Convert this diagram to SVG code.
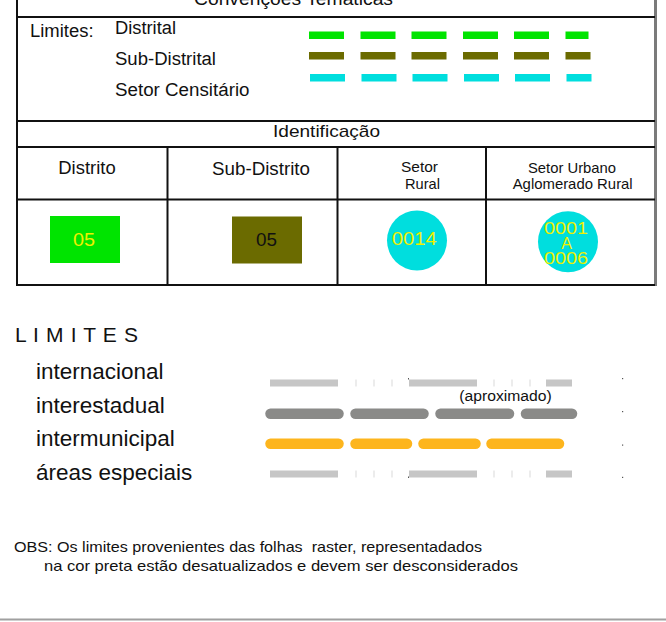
<svg xmlns="http://www.w3.org/2000/svg" width="666" height="622" viewBox="0 0 666 622">
<style>
text{font-family:"Liberation Sans",Arial,sans-serif;fill:#111}
.t18{font-size:18px}
.t15{font-size:15px}
.big{font-size:22.5px}
.yl{fill:#f0f000}
.grid{stroke:#111;stroke-width:2;fill:none}
.lg{fill:#c6c6c6}
.tk{fill:#dadada}
.dt{fill:#555}
.gr{stroke:#8a8a88;stroke-width:10.5;stroke-linecap:round}
.or{stroke:#fdb51d;stroke-width:10.5;stroke-linecap:round}
</style>
<rect width="666" height="622" fill="#fff"/>

<g id="frame">
<line class="grid" x1="17" y1="0" x2="17" y2="286"/>
<line x1="655.5" y1="0" x2="655.5" y2="286" stroke="#7a7a7a" stroke-width="3"/>
<line class="grid" x1="17" y1="17" x2="655" y2="17"/>
<line class="grid" x1="17" y1="121" x2="655" y2="121"/>
<line class="grid" x1="17" y1="147" x2="655" y2="147"/>
<line class="grid" x1="17" y1="199.5" x2="655" y2="199.5"/>
<line class="grid" x1="16" y1="285" x2="655" y2="285"/>
<line class="grid" x1="167.5" y1="147" x2="167.5" y2="285"/>
<line class="grid" x1="337.5" y1="147" x2="337.5" y2="285"/>
<line class="grid" x1="486" y1="147" x2="486" y2="285"/>
</g>

<g id="title">
<text class="t18" x="194" y="4.5" textLength="199" lengthAdjust="spacingAndGlyphs">Convenções Temáticas</text>
</g>

<g id="legend-limites">
<text class="t18" x="30" y="36.5" textLength="63.6" lengthAdjust="spacingAndGlyphs">Limites:</text>
<g id="distrital">
<text class="t18" x="115" y="34.3" textLength="61" lengthAdjust="spacingAndGlyphs">Distrital</text>
<g fill="#00e400">
<rect x="309" y="31.5" width="35" height="7.5"/><rect x="360.5" y="31.5" width="35" height="7.5"/><rect x="411.5" y="31.5" width="35" height="7.5"/><rect x="463" y="31.5" width="35" height="7.5"/><rect x="514" y="31.5" width="35" height="7.5"/><rect x="565.5" y="31.5" width="23" height="7.5"/>
</g>
</g>
<g id="sub-distrital">
<text class="t18" x="115" y="65" textLength="101" lengthAdjust="spacingAndGlyphs">Sub-Distrital</text>
<g fill="#6b6b00">
<rect x="309" y="52" width="35" height="7.5"/><rect x="360.5" y="52" width="35" height="7.5"/><rect x="411.5" y="52" width="35" height="7.5"/><rect x="463" y="52" width="35" height="7.5"/><rect x="514" y="52" width="35" height="7.5"/><rect x="565.5" y="52" width="25" height="7.5"/>
</g>
</g>
<g id="setor-censitario">
<text class="t18" x="115" y="95.5" textLength="134.5" lengthAdjust="spacingAndGlyphs">Setor Censitário</text>
<g fill="#00dede">
<rect x="310" y="74" width="35" height="7.5"/><rect x="361.5" y="74" width="35" height="7.5"/><rect x="412.5" y="74" width="35" height="7.5"/><rect x="464" y="74" width="35" height="7.5"/><rect x="515" y="74" width="35" height="7.5"/><rect x="566.5" y="74" width="25" height="7.5"/>
</g>
</g>
</g>

<g id="identificacao">
<text x="273" y="137.3" style="font-size:17px" textLength="107" lengthAdjust="spacingAndGlyphs">Identificação</text>
</g>

<g id="cell-distrito">
<text class="t18" x="58.3" y="174" textLength="57.4" lengthAdjust="spacingAndGlyphs">Distrito</text>
<rect x="50" y="216" width="70" height="47" fill="#00e400"/>
<text class="yl" x="73" y="246" style="font-size:19px" textLength="22" lengthAdjust="spacingAndGlyphs">05</text>
</g>

<g id="cell-sub-distrito">
<text class="t18" x="212" y="175" textLength="98" lengthAdjust="spacingAndGlyphs">Sub-Distrito</text>
<rect x="232" y="216.5" width="70" height="47" fill="#6b6b00"/>
<text x="256" y="245.7" style="font-size:19px" textLength="21" lengthAdjust="spacingAndGlyphs">05</text>
</g>

<g id="cell-setor-rural">
<text class="t15" x="401" y="172" textLength="37" lengthAdjust="spacingAndGlyphs">Setor</text>
<text class="t15" x="405" y="189" textLength="35" lengthAdjust="spacingAndGlyphs">Rural</text>
<circle cx="417" cy="240.5" r="30" fill="#00dede"/>
<text class="yl" x="391.7" y="245" style="font-size:19px" textLength="45" lengthAdjust="spacingAndGlyphs">0014</text>
</g>

<g id="cell-setor-urbano">
<text class="t15" x="528" y="172.5" textLength="88" lengthAdjust="spacingAndGlyphs">Setor Urbano</text>
<text class="t15" x="512.7" y="189" textLength="120" lengthAdjust="spacingAndGlyphs">Aglomerado Rural</text>
<ellipse cx="568" cy="241.7" rx="30" ry="30.5" fill="#00dede"/>
<text class="yl" x="544" y="233.7" style="font-size:17px" textLength="44" lengthAdjust="spacingAndGlyphs">0001</text>
<text class="yl" x="566.7" y="249.3" style="font-size:16px" text-anchor="middle">A</text>
<text class="yl" x="544" y="263.5" style="font-size:17px" textLength="44" lengthAdjust="spacingAndGlyphs">0006</text>
</g>

<g id="limites">
<text x="15" y="341.5" style="font-size:21px" textLength="123">L I M I T E S</text>
</g>

<g id="internacional">
<text class="big" x="36" y="379">internacional</text>
<rect class="lg" x="270" y="379.5" width="68" height="7"/>
<rect class="lg" x="409" y="379.5" width="68" height="7"/>
<rect class="lg" x="546" y="379.5" width="26" height="7"/>
<rect class="tk" x="355.5" y="379.5" width="1" height="7"/><rect class="tk" x="373.5" y="379.5" width="1" height="7"/><rect class="tk" x="391.5" y="379.5" width="1" height="7"/>
<rect class="tk" x="493.5" y="379.5" width="1" height="7"/><rect class="tk" x="511.5" y="379.5" width="1" height="7"/><rect class="tk" x="529.5" y="379.5" width="1" height="7"/>
<rect class="dt" x="408" y="378" width="1" height="1.5"/>
<rect class="dt" x="622" y="378" width="1.2" height="1.2"/>
</g>

<g id="interestadual">
<text class="big" x="36" y="412.5">interestadual</text>
<text x="459.3" y="401" style="font-size:15.5px" textLength="92.4" lengthAdjust="spacingAndGlyphs">(aproximado)</text>
<line class="gr" x1="270.5" y1="413.7" x2="338.5" y2="413.7"/>
<line class="gr" x1="355.5" y1="413.7" x2="423.5" y2="413.7"/>
<line class="gr" x1="440.5" y1="413.7" x2="509" y2="413.7"/>
<line class="gr" x1="526" y1="413.7" x2="572" y2="413.7"/>
<rect class="dt" x="622" y="411" width="1.2" height="1.2"/>
</g>

<g id="intermunicipal">
<text class="big" x="36" y="446">intermunicipal</text>
<line class="or" x1="270.5" y1="443.7" x2="338.5" y2="443.7"/>
<line class="or" x1="355.5" y1="443.7" x2="407" y2="443.7"/>
<line class="or" x1="423.5" y1="443.7" x2="475.5" y2="443.7"/>
<line class="or" x1="491.5" y1="443.7" x2="559" y2="443.7"/>
<rect class="dt" x="622" y="444.5" width="1.2" height="1.2"/>
</g>

<g id="areas-especiais">
<text class="big" x="36" y="480">áreas especiais</text>
<rect class="lg" x="270" y="470.5" width="68" height="7"/>
<rect class="lg" x="409" y="470.5" width="68" height="7"/>
<rect class="lg" x="546" y="470.5" width="26" height="7"/>
<rect class="tk" x="355.5" y="470.5" width="1" height="7"/><rect class="tk" x="373.5" y="470.5" width="1" height="7"/><rect class="tk" x="391.5" y="470.5" width="1" height="7"/>
<rect class="tk" x="493.5" y="470.5" width="1" height="7"/><rect class="tk" x="511.5" y="470.5" width="1" height="7"/><rect class="tk" x="529.5" y="470.5" width="1" height="7"/>
<rect class="dt" x="408" y="476.5" width="1" height="1.5"/>
<rect class="dt" x="622" y="476.8" width="1.2" height="1.2"/>
</g>

<g id="obs">
<text x="14" y="552" style="font-size:14.5px" textLength="468" lengthAdjust="spacingAndGlyphs" xml:space="preserve">OBS: Os limites provenientes das folhas  raster, representadados</text>
<text x="44" y="571" style="font-size:14.5px" textLength="474" lengthAdjust="spacingAndGlyphs">na cor preta estão desatualizados e devem ser desconsiderados</text>
</g>

<g id="footer-rule">
<line x1="0" y1="619.5" x2="666" y2="619.5" stroke="#a0a0a0" stroke-width="2"/>
</g>

<g id="connectors"></g>
</svg>
